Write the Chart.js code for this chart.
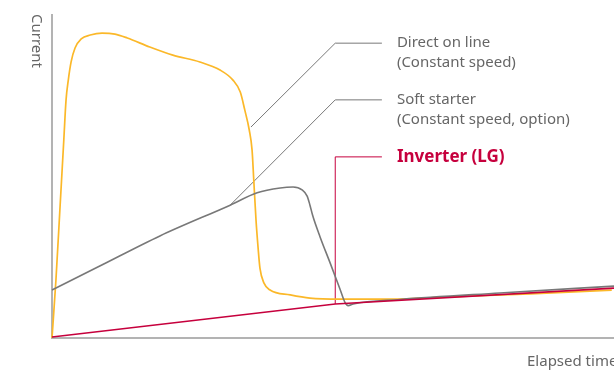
<!DOCTYPE html>
<html>
<head>
<meta charset="utf-8">
<script src="https://cdn.jsdelivr.net/npm/chart.js@4"></script>
<style>
  body { margin: 0; background: #fff; }
  canvas { display: block; }
</style>
</head>
<body>
<canvas id="myChart" width="614" height="374"></canvas>
<script>
// elapsed time (0-100) / current (0-100)
var dolTime    = [0, 0.7, 1.4, 2.1, 2.5, 2.9, 3.4, 4.1, 5.2, 6.8, 8.9, 11.2, 13.4, 17.4, 21.5, 26.3, 29.9, 32.2, 33.5, 34.3, 35.1, 35.6, 35.9, 36.3, 36.7, 37.0, 37.7, 38.8, 42.4, 45.9, 51.3, 60.3, 70.8, 85.1, 99.6]
var dolCurrent = [0, 17.9, 39.5, 61.1, 73.5, 79.6, 85.2, 89.5, 92.3, 93.5, 94.1, 93.8, 92.6, 89.8, 87.3, 85.2, 82.7, 79.6, 75.9, 70.4, 64.2, 58.0, 48.8, 36.4, 27.2, 21.6, 17.0, 14.8, 13.3, 12.3, 12.0, 12.0, 12.7, 13.6, 14.8]

var softTime    = [0, 8.5, 19.2, 31.7, 36.5, 40.6, 42.9, 44.5, 45.4, 45.9, 46.4, 47.7, 49.5, 51.3, 52.1, 52.7, 53.6, 61.9, 79.7, 100]
var softCurrent = [14.8, 22.2, 31.5, 41.0, 44.8, 46.3, 46.6, 45.7, 43.8, 41.0, 37.7, 31.2, 23.1, 14.8, 11.1, 10.0, 10.5, 11.9, 13.9, 16.0]

var invTime    = [0, 50.4, 100]
var invCurrent = [0.3, 10.5, 15.4]

var labels = [
  ['Direct on line', '(Constant speed)'],
  ['Soft starter', '(Constant speed, option)'],
  ['Inverter (LG)']
]
// leader lines: point on curve -> elbow -> end
var leaderTime = [[35.4, 50.4, 58.7], [31.7, 50.4, 58.7], [50.4, 50.4, 58.7]]
var leaderCurrent = [[65.1, 91.0, 91.0], [41.0, 73.5, 73.5], [10.5, 55.9, 55.9]]

var yellow = '#fbb829', gray = '#787878', red = '#c6003d'

function pts(xs, ys) {
  return xs.map(function(x, i) { return {x: x, y: ys[i]} })
}

var datasets = [
  {data: pts(invTime, invCurrent), borderColor: red, borderWidth: 1.6, order: 0},
  {data: pts(softTime, softCurrent), borderColor: gray, borderWidth: 1.6, cubicInterpolationMode: 'monotone', order: 1},
  {data: pts(dolTime, dolCurrent), borderColor: yellow, borderWidth: 1.7, cubicInterpolationMode: 'monotone', order: 2}
]
var leaderColors = [gray, gray, red]
for (var i = 0; i < 3; i++) {
  datasets.push({data: pts(leaderTime[i], leaderCurrent[i]), borderColor: leaderColors[i], borderWidth: 1, order: 3})
}
datasets.forEach(function(d) { d.showLine = true; d.pointRadius = 0; d.clip = false; d.fill = false })

var axesPlugin = {
  id: 'axes',
  beforeDatasetsDraw: function(chart) {
    var ctx = chart.ctx, a = chart.chartArea
    ctx.save()
    ctx.strokeStyle = '#b3b3b3'
    ctx.lineWidth = 2
    ctx.beginPath()
    ctx.moveTo(a.left, a.top)
    ctx.lineTo(a.left, a.bottom)
    ctx.lineTo(a.right, a.bottom)
    ctx.stroke()
    ctx.restore()
  },
  afterDraw: function(chart) {
    var ctx = chart.ctx, a = chart.chartArea
    var xs = chart.scales.x, ys = chart.scales.y
    ctx.save()
    ctx.textBaseline = 'middle'
    ctx.textAlign = 'left'
    for (var i = 0; i < labels.length; i++) {
      var px = xs.getPixelForValue(leaderTime[i][2]) + 15
      var py = ys.getPixelForValue(leaderCurrent[i][2])
      if (i == 2) {
        ctx.font = 'bold 17px "Noto Sans"'
        ctx.fillStyle = red
      } else {
        ctx.font = '15px "Noto Sans"'
        ctx.fillStyle = '#666'
      }
      labels[i].forEach(function(t, j) { ctx.fillText(t, px, py + j * 20) })
    }
    ctx.font = '15px "Noto Sans"'
    ctx.fillStyle = '#666'
    ctx.fillText('Elapsed time', 527, 362)
    ctx.translate(36, a.top)
    ctx.rotate(Math.PI / 2)
    ctx.fillText('Current', 0, 0)
    ctx.restore()
  }
}

var myChart = new Chart(document.getElementById('myChart').getContext('2d'), {
  type: 'scatter',
  data: {datasets: datasets},
  options: {
    responsive: false,
    animation: false,
    devicePixelRatio: 1,
    layout: {padding: {left: 52, right: 0, top: 14, bottom: 36}},
    plugins: {legend: {display: false}, tooltip: {enabled: false}},
    scales: {
      x: {type: 'linear', min: 0, max: 100, display: false},
      y: {type: 'linear', min: 0, max: 100, display: false}
    }
  },
  plugins: [axesPlugin]
})
</script>
</body>
</html>
